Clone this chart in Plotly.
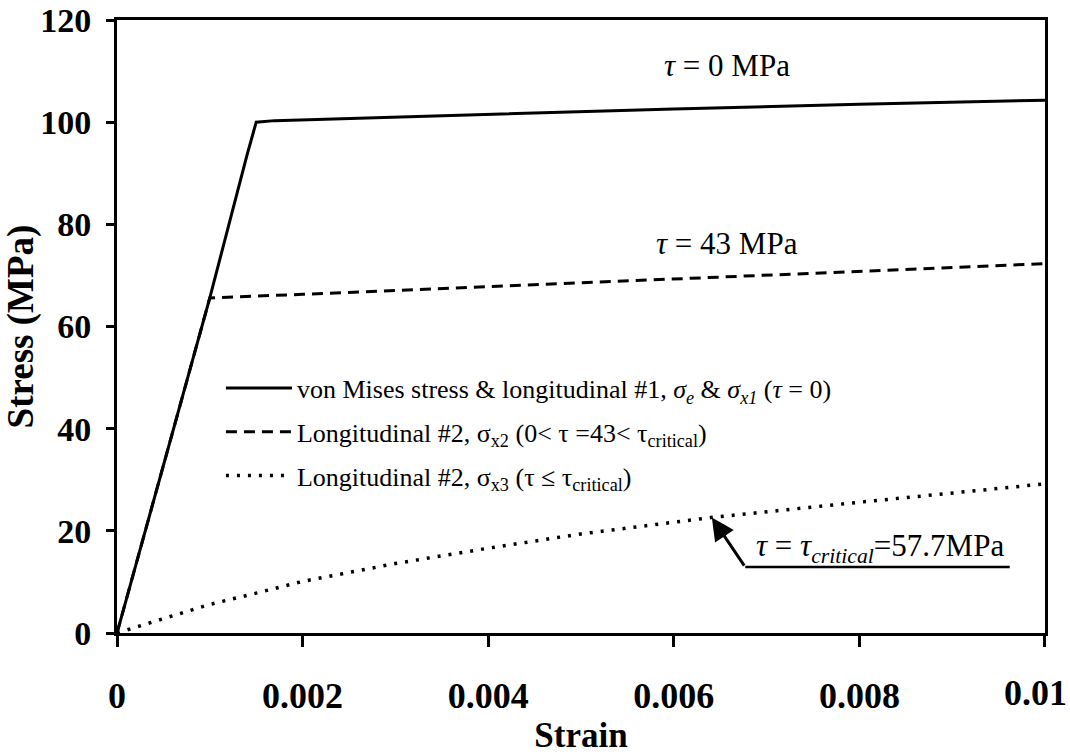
import plotly.graph_objects as go

# --- data ---
strain_vm = [0, 0.001, 0.0014, 0.0015, 0.0017, 0.004, 0.006, 0.008, 0.01]
stress_vm = [0, 65.6, 93.5, 100.0, 100.3, 101.6, 102.6, 103.5, 104.3]

strain_x2 = [0, 0.001, 0.002, 0.004, 0.006, 0.008, 0.01]
stress_x2 = [0, 65.6, 66.3, 67.8, 69.3, 70.8, 72.3]

strain_x3 = [0, 0.001, 0.0015, 0.002, 0.003, 0.004, 0.005, 0.0064, 0.008, 0.01]
stress_x3 = [0, 5.6, 7.8, 10.1, 13.6, 16.6, 19.4, 22.6, 25.6, 29.2]

x_ticks = [0, 0.002, 0.004, 0.006, 0.008, 0.01]
x_ticklabels = ["0", "0.002", "0.004", "0.006", "0.008", ""]
last_x_label = "0.01"
y_ticks = [0, 20, 40, 60, 80, 100, 120]

names = [
    "von Mises stress &amp; longitudinal #1, <i>σ<sub>e</sub></i> &amp; <i>σ<sub>x1</sub></i> (<i>τ</i> = 0)",
    "Longitudinal #2, σ<sub>x2</sub> (0&lt; τ =43&lt; τ<sub>critical</sub>)",
    "Longitudinal #2, σ<sub>x3</sub> (τ ≤ τ<sub>critical</sub>)",
]

SERIF = "Liberation Serif, Times New Roman, serif"

fig = go.Figure()
fig.add_trace(go.Scatter(x=strain_vm, y=stress_vm, mode="lines", name=names[0],
                         legendgroup="a", line=dict(color="black", width=3)))
fig.add_trace(go.Scatter(x=strain_x2, y=stress_x2, mode="lines", name=names[1],
                         legendgroup="b", line=dict(color="black", width=3, dash="11px,7px")))
fig.add_trace(go.Scatter(x=strain_x3, y=stress_x3, mode="lines", name=names[2],
                         legendgroup="c", line=dict(color="black", width=3.5, dash="3px,8px")))

# curve labels
fig.add_annotation(x=0.00657, y=111.0, text="<i>τ</i> = 0 MPa", showarrow=False,
                   font=dict(family=SERIF, size=31, color="black"))
fig.add_annotation(x=0.00657, y=76.3, text="<i>τ</i> = 43 MPa", showarrow=False,
                   font=dict(family=SERIF, size=31, color="black"))

# critical annotation: arrow + underline + text
fig.add_annotation(x=0.00641, y=22.6, ax=0.00677, ay=12.9, axref="x", ayref="y",
                   text="", showarrow=True, arrowhead=2, arrowsize=1.5, arrowwidth=3,
                   arrowcolor="black")
fig.add_shape(type="line", x0=0.00677, y0=12.9, x1=0.00962, y1=12.9,
              line=dict(color="black", width=2.5))
fig.add_annotation(x=0.00822, y=16.6,
                   text="<i>τ</i> = <i>τ<sub>critical</sub></i>=57.7MPa",
                   showarrow=False, font=dict(family=SERIF, size=31, color="black"))

# last x tick label, nudged left so it stays inside the page as in the reference
fig.add_annotation(x=0.01, xref="x", y=-0.098, yref="paper", yanchor="middle",
                   xshift=-9, text="<b>" + last_x_label + "</b>", showarrow=False,
                   font=dict(family=SERIF, size=36, color="black"))

fig.update_layout(
    width=1070, height=755,
    margin=dict(l=117, r=25, t=20, b=122),
    paper_bgcolor="white", plot_bgcolor="white",
    font=dict(family=SERIF, color="black"),
    showlegend=True,
    legend=dict(x=0.112, y=0.438, xanchor="left", yanchor="top",
                bgcolor="rgba(0,0,0,0)", font=dict(family=SERIF, size=26, color="black"),
                traceorder="grouped", tracegroupgap=7, itemwidth=66),
    xaxis=dict(range=[0, 0.0100001], tickvals=x_ticks, ticktext=x_ticklabels,
               automargin=False,
               showgrid=False, zeroline=False, showline=True, linecolor="black",
               linewidth=3, mirror=True, ticks="outside", ticklen=11, tickwidth=2.5,
               tickcolor="black", ticklabelstandoff=18,
               tickfont=dict(family=SERIF, size=36, color="black", weight="bold"),
               title=dict(text="<b>Strain</b>", standoff=8,
                          font=dict(family=SERIF, size=35, color="black"))),
    yaxis=dict(range=[0, 120.0001], tickvals=y_ticks, showgrid=False, zeroline=False,
               automargin=False, ticklabeloverflow="allow",
               showline=True, linecolor="black", linewidth=3, mirror=True,
               ticks="outside", ticklen=8, tickwidth=2.5, tickcolor="black",
               ticklabelstandoff=8,
               tickfont=dict(family=SERIF, size=34, color="black", weight="bold"),
               title=dict(text="<b>Stress (MPa)</b>", standoff=10,
                          font=dict(family=SERIF, size=37, color="black"))),
)

fig.write_html("out.html")
